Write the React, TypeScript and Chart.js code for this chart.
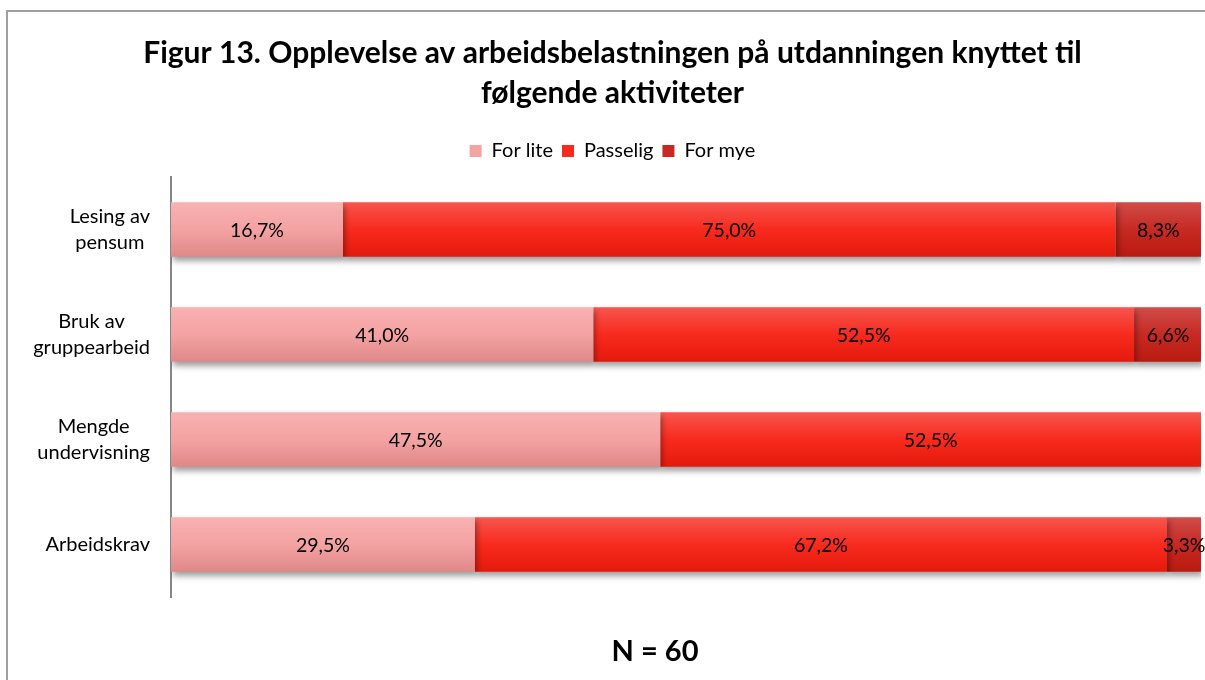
import React, { useEffect, useRef } from "react";
import { Chart, registerables } from "chart.js";

Chart.register(...registerables);

const categories: string[][] = [
  ["Lesing av", "pensum"],
  ["Bruk av", "gruppearbeid"],
  ["Mengde", "undervisning"],
  ["Arbeidskrav"],
];
const seriesNames = ["For lite", "Passelig", "For mye"];
const forLite = [16.7, 41.0, 47.5, 29.5];
const passelig = [75.0, 52.5, 52.5, 67.2];
const forMye: (number | null)[] = [8.3, 6.6, null, 3.3];
const titleLines = [
  "Figur 13. Opplevelse av arbeidsbelastningen på utdanningen knyttet til",
  "følgende aktiviteter",
];
const footnote = "N = 60";

const FONT = "Lato, 'Open Sans', sans-serif";

const gradStops = [
  ["#f8b2b2", "#f4a2a2", "#df8888"],
  ["#f6564e", "#f82a1e", "#e31a0c"],
  ["#d04c4a", "#c62a22", "#ba1a10"],
];

function gradient(i: number) {
  return (ctx: any) => {
    const chart = ctx.chart;
    const ys = chart.scales && chart.scales.y;
    if (!ys || ctx.dataIndex === undefined || !chart.chartArea) return gradStops[i][1];
    const c = ys.getPixelForValue(ctx.dataIndex);
    const half = (ys.height / categories.length) * 0.26;
    const g = chart.ctx.createLinearGradient(0, c - half, 0, c + half);
    g.addColorStop(0, gradStops[i][0]);
    g.addColorStop(0.5, gradStops[i][1]);
    g.addColorStop(1, gradStops[i][2]);
    return g;
  };
}

const fmt = (v: number) => v.toFixed(1).replace(".", ",") + "%";

const customPlugin = {
  id: "custom",
  beforeDatasetsDraw(chart: any) {
    const c = chart.ctx;
    c.save();
    c.shadowColor = "rgba(0,0,0,0.38)";
    c.shadowBlur = 6;
    c.shadowOffsetX = 2;
    c.shadowOffsetY = 4;
  },
  afterDatasetsDraw(chart: any) {
    const c = chart.ctx;
    c.restore();
    c.save();
    c.font = `19.5px ${FONT}`;
    c.fillStyle = "#000";
    c.textAlign = "center";
    c.textBaseline = "middle";
    chart.data.datasets.forEach((ds: any, di: number) => {
      const meta = chart.getDatasetMeta(di);
      meta.data.forEach((el: any, i: number) => {
        const v = ds.data[i];
        if (v === null || v === undefined) return;
        const p = el.getCenterPoint();
        c.fillText(fmt(v), p.x, p.y + 1);
      });
    });
    c.restore();
  },
  afterDraw(chart: any) {
    const c = chart.ctx;
    const ys = chart.scales.y;
    c.save();
    c.font = `20px ${FONT}`;
    c.fillStyle = "#000";
    c.textAlign = "center";
    c.textBaseline = "middle";
    const right = chart.chartArea.left - 21;
    const lh = 26;
    categories.forEach((lines, i) => {
      const cy = ys.getPixelForValue(i);
      const w = Math.max(...lines.map((l) => c.measureText(l).width));
      const cx = right - w / 2;
      lines.forEach((l, j) => {
        c.fillText(l, cx, cy + (j - (lines.length - 1) / 2) * lh);
      });
    });
    c.font = `bold 29px ${FONT}`;
    c.fillText(footnote, 655, 652);
    c.restore();
  },
};

export default function App() {
  const ref = useRef<HTMLCanvasElement | null>(null);
  useEffect(() => {
    if (!ref.current) return;
    const chart = new Chart(ref.current, {
      type: "bar",
      data: {
        labels: categories,
        datasets: [forLite, passelig, forMye].map((d, i) => ({
          label: seriesNames[i],
          data: d,
          backgroundColor: gradient(i),
          borderWidth: 0,
          categoryPercentage: 1,
          barPercentage: 0.52,
        })),
      },
      options: {
        indexAxis: "y",
        responsive: false,
        animation: false,
        events: [],
        layout: { padding: { left: 24, right: 4, top: 0, bottom: 83 } },
        scales: {
          x: {
            stacked: true,
            min: 0,
            max: 100,
            position: "top",
            grid: { display: false },
            border: { display: false },
            ticks: { display: false },
            afterFit: (s: any) => {
              s.height = 6;
            },
          },
          y: {
            stacked: true,
            grid: { display: false, drawTicks: false },
            border: { display: true, color: "#868686", width: 2 },
            ticks: { display: false },
            afterFit: (s: any) => {
              s.width = 147;
            },
          },
        },
        plugins: {
          title: {
            display: true,
            text: titleLines,
            color: "#000",
            font: { family: FONT, size: 30, weight: "bold", lineHeight: 40 / 30 },
            padding: { top: 33, bottom: 19 },
          },
          legend: {
            display: true,
            labels: {
              color: "#000",
              font: { family: FONT, size: 20 },
              boxWidth: 12,
              boxHeight: 12,
              padding: 9,
              generateLabels: () =>
                seriesNames.map((n, i) => ({
                  text: n,
                  fillStyle: gradStops[i][1],
                  strokeStyle: gradStops[i][1],
                  lineWidth: 0,
                  hidden: false,
                  datasetIndex: i,
                  fontColor: "#000",
                })),
            },
          },
          tooltip: { enabled: false },
        },
      },
      plugins: [customPlugin],
    });
    return () => chart.destroy();
  }, []);

  return (
    <div
      style={{
        position: "fixed",
        left: 0,
        top: 0,
        width: 1205,
        height: 680,
        overflow: "hidden",
        background: "#fff",
      }}
    >
      <canvas ref={ref} width={1205} height={680} style={{ position: "absolute", left: 0, top: 0 }} />
      <div
        style={{
          position: "absolute",
          left: 6,
          top: 10,
          width: 1300,
          height: 800,
          borderLeft: "2px solid #a0a0a0",
          borderTop: "2px solid #a0a0a0",
          pointerEvents: "none",
        }}
      />
    </div>
  );
}
